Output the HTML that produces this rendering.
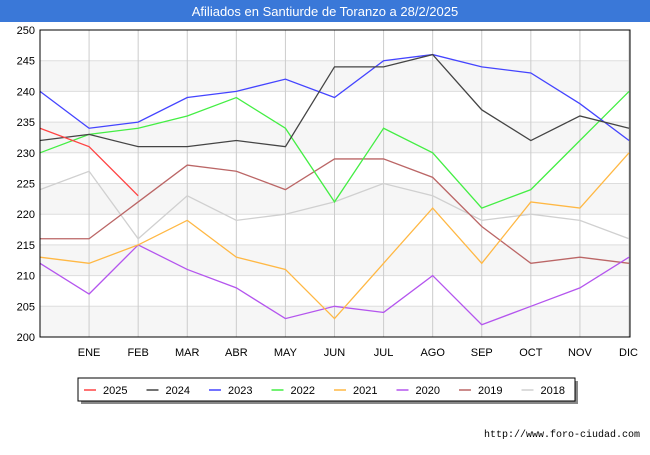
<!DOCTYPE html>
<html><head><meta charset="utf-8"><style>
body{margin:0;background:#fff;font-family:"Liberation Sans",sans-serif}
</style></head><body>
<svg width="650" height="450" xmlns="http://www.w3.org/2000/svg" id="c">
<rect x="0" y="0" width="650" height="22" fill="#3a78d8"/>
<text x="325" y="16" text-anchor="middle" fill="#fff" font-size="13" font-family="Liberation Sans">Afiliados en Santiurde de Toranzo a 28/2/2025</text>
<g id="bands"></g><g id="grid"></g><g id="lines"></g>
<rect x="40" y="30" width="590" height="307" fill="none" stroke="#000"/>
<g id="legend"></g>
<text x="640" y="437" text-anchor="end" font-size="10" font-family="Liberation Mono" fill="#000">http://www.foro-ciudad.com</text>
</svg>
<script>
const months=["","ENE","FEB","MAR","ABR","MAY","JUN","JUL","AGO","SEP","OCT","NOV","DIC"];
const yTicks=[200,205,210,215,220,225,230,235,240,245,250];
const seriesNames=["2025","2024","2023","2022","2021","2020","2019","2018"];
const seriesColors=["#ff4444","#444444","#4444ff","#44ee44","#ffb844","#b455ee","#bb6666","#d0d0d0"];
const s2025=[234,231,223];
const s2024=[232,233,231,231,232,231,244,244,246,237,232,236,234];
const s2023=[240,234,235,239,240,242,239,245,246,244,243,238,232];
const s2022=[230,233,234,236,239,234,222,234,230,221,224,232,240];
const s2021=[213,212,215,219,213,211,203,212,221,212,222,221,230];
const s2020=[212,207,215,211,208,203,205,204,210,202,205,208,213];
const s2019=[216,216,222,228,227,224,229,229,226,218,212,213,212];
const s2018=[224,227,216,223,219,220,222,225,223,219,220,219,216];
const seriesData=[s2025,s2024,s2023,s2022,s2021,s2020,s2019,s2018];
const NS="http://www.w3.org/2000/svg";
const X=i=>40+i*(589/12), Y=v=>337-(v-200)*(307/50);
function mk(t,a,p){const e=document.createElementNS(NS,t);for(const k in a)e.setAttribute(k,a[k]);p.appendChild(e);return e;}
const bands=document.getElementById('bands'),grid=document.getElementById('grid'),lines=document.getElementById('lines'),leg=document.getElementById('legend');
for(let v=200;v<250;v+=10){const r=mk('rect',{x:40,y:Y(v+5),width:590,height:Y(v)-Y(v+5),fill:'#f6f6f6'},bands);

}
yTicks.forEach(v=>{const l=mk('line',{x1:40,x2:630,y1:Y(v),y2:Y(v),stroke:'#dddddd'},grid);


const t=mk('text',{x:35,y:Y(v)+4,'text-anchor':'end','font-size':11,fill:'#000'},grid);t.textContent=v;

});
months.forEach((m,i)=>{if(i>0){const l=mk('line',{x1:X(i),x2:X(i),y1:30,y2:337,stroke:'#cccccc'},grid);


const t=mk('text',{x:X(i),y:356,'text-anchor':i==12?'end':'middle','font-size':11,fill:'#000'},grid);t.textContent=m;
if(i==12)t.setAttribute('x',X(i)+9);

}});
for(let k=seriesData.length-1;k>=0;k--){const d=seriesData[k];
const p=mk('polyline',{points:d.map((v,i)=>X(i)+','+Y(v)).join(' '),fill:'none',stroke:seriesColors[k],'stroke-width':1.3},lines);

}
mk('rect',{x:81,y:381,width:497,height:23,fill:'#888'},leg);
const box=mk('rect',{x:78,y:378,width:497,height:23,fill:'#fff',stroke:'#000'},leg);


seriesNames.forEach((n,k)=>{const x0=84+k*62.5;
const l=mk('line',{x1:x0,x2:x0+12,y1:390,y2:390,stroke:seriesColors[k],'stroke-width':1.5},leg);


const t=mk('text',{x:x0+19,y:394,'font-size':11,fill:'#000'},leg);t.textContent=n;

});
</script>
</body></html>
